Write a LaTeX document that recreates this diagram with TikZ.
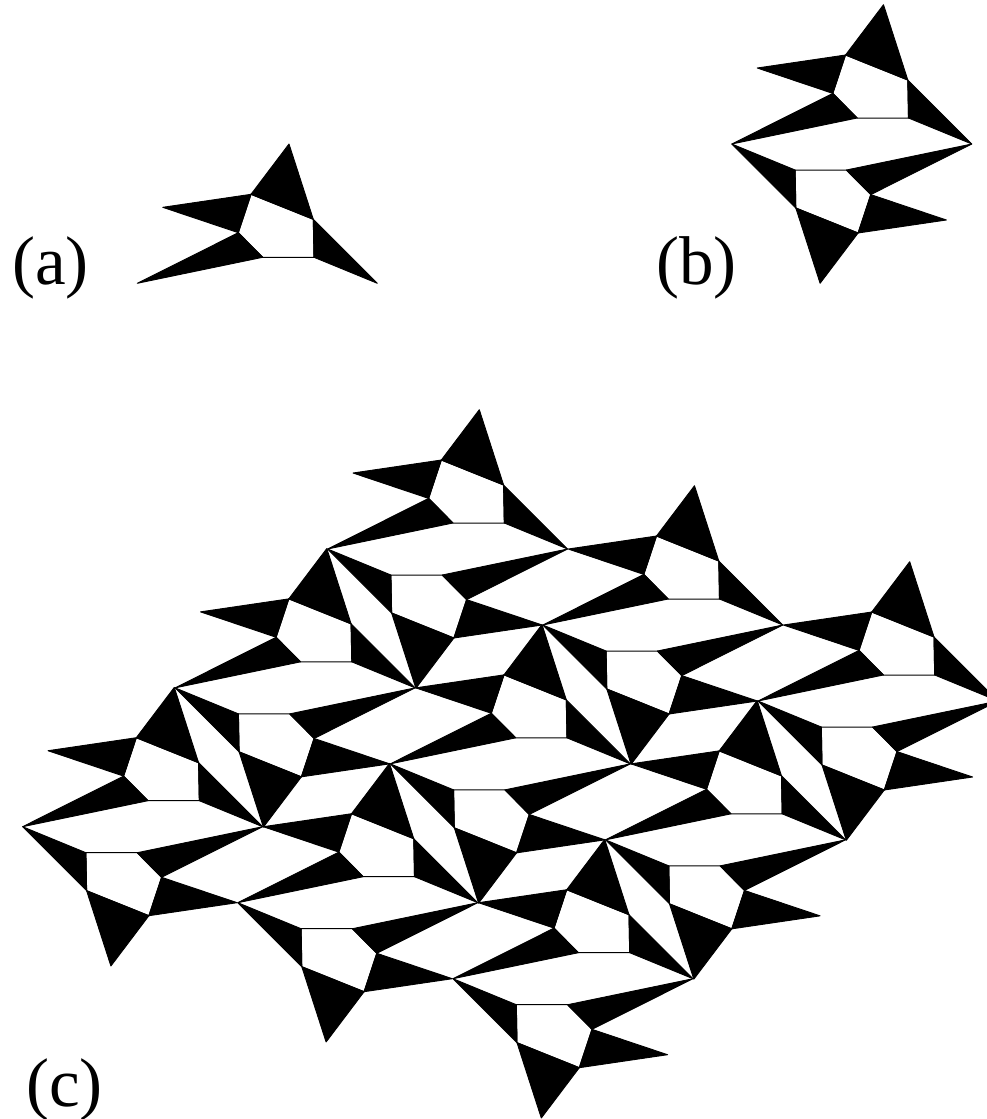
\documentclass[tikz,border=0pt]{standalone}
\usepackage{fontspec}
\setmainfont{Liberation Serif}
\tikzset{
  x=1pt,y=-1pt,
  blacktri/.style={fill=black,draw=black,line width=0.9pt,line join=round},
  whitecell/.style={fill=white,draw=black,line width=1pt},
  lab/.style={anchor=base west,inner sep=0pt,font=\fontsize{69}{69}\selectfont},
  tile/.pic={
    \draw[whitecell] (-6.3,-89) -- (56,-64) -- (56.7,-26) -- (5.4,-26) -- (-19,-50.6) -- cycle;
    \fill[blacktri] (31.7,-139.3) -- (-6.3,-89) -- (56,-64) -- cycle;
    \fill[blacktri] (-94.6,-76) -- (-6.3,-89) -- (-19,-50.6) -- cycle;
    \fill[blacktri] (-120,0) -- (-19,-50.6) -- (5.4,-26) -- cycle;
    \fill[blacktri] (120,0) -- (56,-64) -- (56.7,-26) -- cycle;
  },
  pair/.pic={
    \pic {tile};
    \pic[rotate=180] {tile};
  }
}
\begin{document}
\begin{tikzpicture}
\useasboundingbox (0,0) rectangle (986,1119);
\fill[white] (0,0) rectangle (986,1119);
\pic at (257.3,283.3) {tile};
\pic at (851.8,144) {pair};
\foreach \i in {0,1,2}
  \foreach \j in {0,1,2}
    \pic[scale=0.994] at ({447.6+\i*(-152.5)+\j*215.2},{549+\i*138.85+\j*76}) {pair};
\node[lab] (la) at (12,284) {(a)};
\node[lab] (lb) at (656,284) {(b)};
\node[lab] (lc) at (26,1106) {(c)};
\end{tikzpicture}
\end{document}
